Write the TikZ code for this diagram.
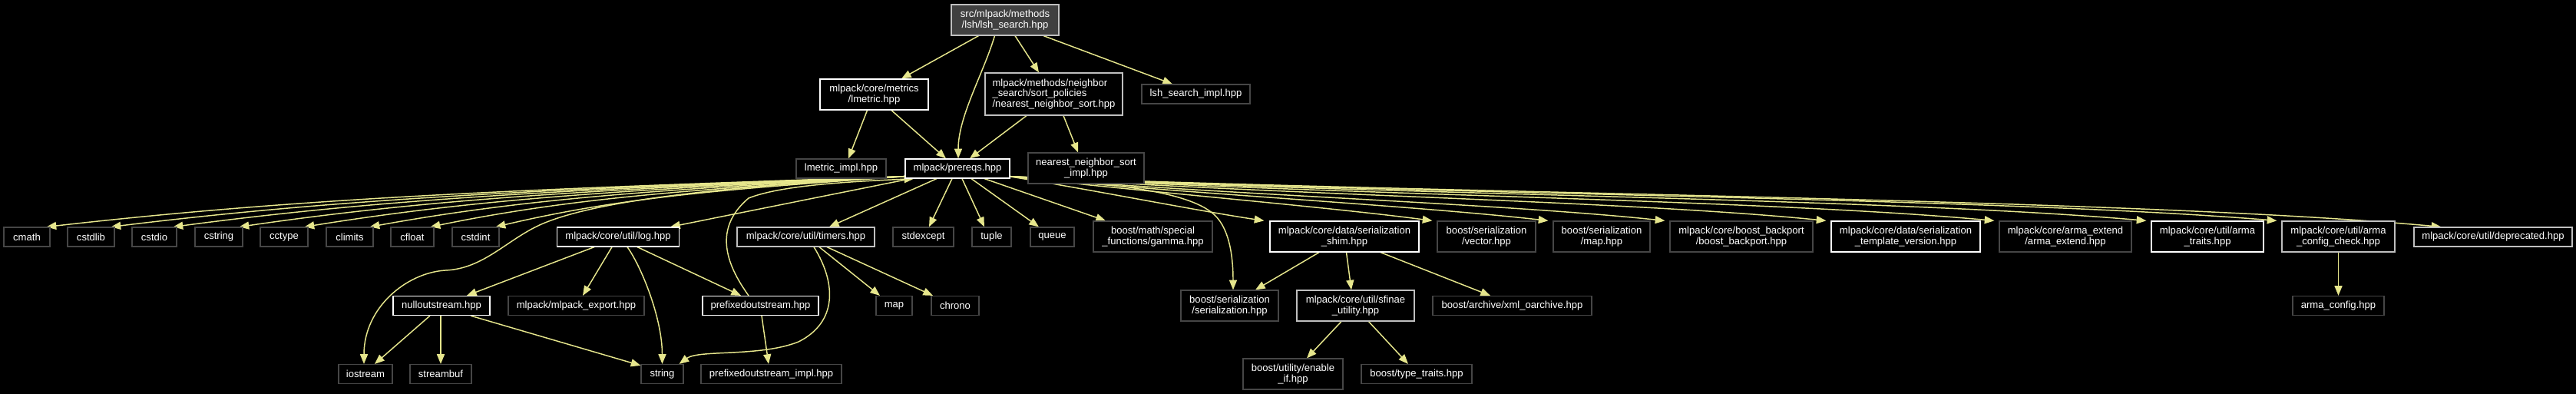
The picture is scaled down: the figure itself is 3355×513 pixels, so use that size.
\documentclass[tikz,border=0pt]{standalone}
\usepackage{fontspec}
\setmainfont{Liberation Sans}
\usetikzlibrary{arrows.meta}
\newdimen\px \px=0.75pt
\definecolor{edgecol}{RGB}{230,230,140}
\definecolor{dimborder}{RGB}{70,70,70}
\definecolor{litborder}{RGB}{191,191,191}
\definecolor{topfill}{RGB}{64,64,64}
\pgfdeclarelayer{bgl}
\pgfdeclarelayer{edgel}
\pgfsetlayers{bgl,edgel,main}
\begin{document}
\begin{tikzpicture}[x=0.75pt,y=-0.75pt,
  box/.style={draw=dimborder, fill=black, line width=1.2\px, text=white,
    font=\fontsize{9.8}{10}\selectfont, inner sep=0pt, align=center,
    minimum height=25\px},
  wht/.style={draw=white},
  lit/.style={draw=litborder},
  dbl/.style={minimum height=40\px},
  dep/.style={draw=edgecol, line width=1.1pt,
    -{Triangle[length=9.5pt,width=7.5pt]}}]
\begin{pgfonlayer}{bgl}
\fill[black] (0,0) rectangle (3355,513);
\end{pgfonlayer}
\useasboundingbox (0,0) rectangle (3355,513);

% rows 1-2
\node[box, lit, fill=topfill, dbl, minimum width=140\px] (top) at (1309,26) {src/mlpack/methods\\/lsh/lsh\_search.hpp};
\node[box, wht, dbl, minimum width=141\px] (lmetric) at (1138.5,123) {mlpack/core/metrics\\/lmetric.hpp};
\node[box, lit, minimum height=55\px, minimum width=179\px, align=left] (nns) at (1372.5,122.5) {mlpack/methods/neighbor\\\_search/sort\_policies\\/nearest\_neighbor\_sort.hpp};
\node[box, minimum width=141\px] (lshimpl) at (1557.5,122.5) {lsh\_search\_impl.hpp};
\node[box, minimum width=117\px] (lmimpl) at (1095.5,219.5) {lmetric\_impl.hpp};
\node[box, wht, minimum width=136\px] (prereqs) at (1247,219.5) {mlpack/prereqs.hpp};
\node[box, dbl, minimum width=151\px] (nnsimpl) at (1414.5,219) {nearest\_neighbor\_sort\\\_impl.hpp};

% row 3
\node[box, minimum width=60\px] (cmath) at (35,308.5) {cmath};
\node[box, minimum width=61\px] (cstdlib) at (118.5,308.5) {cstdlib};
\node[box, minimum width=58\px] (cstdio) at (201,308.5) {cstdio};
\node[box, minimum width=62\px] (cstring) at (285,308.5) {cstring};
\node[box, minimum width=62\px] (cctype) at (370,308.5) {cctype};
\node[box, minimum width=61\px] (climits) at (455.5,308.5) {climits};
\node[box, minimum width=56\px] (cfloat) at (537,308.5) {cfloat};
\node[box, minimum width=61\px] (cstdint) at (619.5,308.5) {cstdint};
\node[box, wht, minimum width=159\px] (log) at (805,308.5) {mlpack/core/util/log.hpp};
\node[box, lit, minimum width=179\px] (timers) at (1049.5,308.5) {mlpack/core/util/timers.hpp};
\node[box, minimum width=79\px] (stdexcept) at (1202.5,308.5) {stdexcept};
\node[box, minimum width=51\px] (tuple) at (1291.5,308.5) {tuple};
\node[box, minimum width=57\px] (queue) at (1370.5,308.5) {queue};
\node[box, dbl, minimum width=155\px] (gamma) at (1501.5,308) {boost/math/special\\\_functions/gamma.hpp};
\node[box, wht, dbl, minimum width=194\px] (shim) at (1751,308) {mlpack/core/data/serialization\\\_shim.hpp};
\node[box, dbl, minimum width=128\px] (vector) at (1936,308) {boost/serialization\\/vector.hpp};
\node[box, dbl, minimum width=126\px] (bmap) at (2086,308) {boost/serialization\\/map.hpp};
\node[box, dbl, minimum width=186\px] (backport) at (2268,308) {mlpack/core/boost\_backport\\/boost\_backport.hpp};
\node[box, wht, dbl, minimum width=194\px] (tversion) at (2482,308) {mlpack/core/data/serialization\\\_template\_version.hpp};
\node[box, dbl, minimum width=172\px] (armaext) at (2690,308) {mlpack/core/arma\_extend\\/arma\_extend.hpp};
\node[box, wht, dbl, minimum width=146\px] (armatraits) at (2875,308) {mlpack/core/util/arma\\\_traits.hpp};
\node[box, lit, dbl, minimum width=147\px] (cfgcheck) at (3045.5,308) {mlpack/core/util/arma\\\_config\_check.hpp};
\node[box, lit, minimum width=206\px] (deprecated) at (3247,308.5) {mlpack/core/util/deprecated.hpp};

% row 4
\node[box, wht, minimum width=126\px] (null) at (575,398) {nulloutstream.hpp};
\node[box, minimum width=177\px] (export) at (750.5,398) {mlpack/mlpack\_export.hpp};
\node[box, wht, minimum width=151\px] (pfx) at (990.5,398) {prefixedoutstream.hpp};
\node[box, minimum width=47\px] (smap) at (1164.5,398) {map};
\node[box, minimum width=62\px] (chrono) at (1244,398) {chrono};
\node[box, dbl, minimum width=127\px] (ser) at (1601.5,398) {boost/serialization\\/serialization.hpp};
\node[box, lit, dbl, minimum width=153\px] (sfinae) at (1765.5,398) {mlpack/core/util/sfinae\\\_utility.hpp};
\node[box, minimum width=207\px] (xml) at (1969.5,398) {boost/archive/xml\_oarchive.hpp};
\node[box, minimum width=119\px] (armacfg) at (3045.5,398) {arma\_config.hpp};

% row 5
\node[box, minimum width=70\px] (iostream) at (476,487) {iostream};
\node[box, minimum width=80\px] (streambuf) at (574,487) {streambuf};
\node[box, minimum width=55\px] (string) at (862.5,487) {string};
\node[box, minimum width=183\px] (pfximpl) at (1004.5,487) {prefixedoutstream\_impl.hpp};
\node[box, dbl, minimum width=130\px] (enableif) at (1684,487) {boost/utility/enable\\\_if.hpp};
\node[box, minimum width=144\px] (typetraits) at (1845,487) {boost/type\_traits.hpp};

\begin{pgfonlayer}{edgel}
% top level
\draw[dep] ([xshift=-34.5\px]top.south) -- ([xshift=35.5\px]lmetric.north);
\draw[dep] ([xshift=-13.5\px]top.south) .. controls +(-15,50) and +(0,-55) .. ([xshift=1\px]prereqs.north);
\draw[dep] ([xshift=13\px]top.south) -- ([xshift=-19.5\px]nns.north);
\draw[dep] ([xshift=50\px]top.south) -- ([xshift=-30.5\px]lshimpl.north);
\draw[dep] ([xshift=-9\px]lmetric.south) -- ([xshift=9.5\px]lmimpl.north);
\draw[dep] ([xshift=22.5\px]lmetric.south) -- ([xshift=-15\px]prereqs.north);
\draw[dep] ([xshift=-35.5\px]nns.south) -- ([xshift=16\px]prereqs.north);
\draw[dep] ([xshift=12.5\px]nns.south) -- ([xshift=-10.5\px]nnsimpl.north);

% prereqs straight
\draw[dep] ([xshift=-7\px]prereqs.south) -- ([xshift=7.5\px]stdexcept.north);
\draw[dep] ([xshift=6\px]prereqs.south) -- ([xshift=-9.5\px]tuple.north);
\draw[dep] ([xshift=18\px]prereqs.south) -- ([xshift=-17.5\px]queue.north);
\draw[dep] ([xshift=-27\px]prereqs.south) -- ([xshift=30.5\px]timers.north);
\draw[dep] ([xshift=8\px]prereqs.south west) -- ([xshift=-12\px]log.north east);
\draw[dep] ([xshift=35\px]prereqs.south) -- ([xshift=-61.5\px]gamma.north);

% prereqs left bundle
\draw[dep] ([xshift=2\px,yshift=3\px]prereqs.south west) .. controls +(-504,17) and +(336,-38) .. ([xshift=-5\px]cmath.north east);
\draw[dep] ([xshift=2\px,yshift=3\px]prereqs.south west) .. controls +(-467,17) and +(311,-38) .. ([xshift=-5\px]cstdlib.north east);
\draw[dep] ([xshift=2\px,yshift=3\px]prereqs.south west) .. controls +(-430,17) and +(287,-38) .. ([xshift=-5\px]cstdio.north east);
\draw[dep] ([xshift=2\px,yshift=3\px]prereqs.south west) .. controls +(-392,17) and +(261,-38) .. ([xshift=-5\px]cstring.north east);
\draw[dep] ([xshift=2\px,yshift=3\px]prereqs.south west) .. controls +(-353,17) and +(236,-38) .. ([xshift=-5\px]cctype.north east);
\draw[dep] ([xshift=2\px,yshift=3\px]prereqs.south west) .. controls +(-315,17) and +(210,-38) .. ([xshift=-5\px]climits.north east);
\draw[dep] ([xshift=2\px,yshift=3\px]prereqs.south west) .. controls +(-279,17) and +(186,-38) .. ([xshift=-5\px]cfloat.north east);
\draw[dep] ([xshift=2\px,yshift=3\px]prereqs.south west) .. controls +(-241,17) and +(161,-38) .. ([xshift=-5\px]cstdint.north east);
\draw[dep] ([xshift=2\px,yshift=3\px]prereqs.south west) .. controls (1000,240) and (790,255) .. (705,292)
   .. controls (660,312) and (630,350) .. (580,352)
   .. controls (530,355) and (474,400) .. ([xshift=-2\px]iostream.north);

% prereqs right bundle
\draw[dep] ([xshift=-2\px,yshift=3\px]prereqs.south east) .. controls +(100,16) and +(-87,-13) .. ([xshift=-7\px]shim.north west);
\draw[dep] ([xshift=-2\px,yshift=3\px]prereqs.south east) .. controls +(166,19) and +(-136,-18) .. ([xshift=-6\px]vector.north west);
\draw[dep] ([xshift=-2\px,yshift=3\px]prereqs.south east) .. controls +(211,21) and +(-177,-20) .. ([xshift=-6\px]bmap.north west);
\draw[dep] ([xshift=-2\px,yshift=3\px]prereqs.south east) .. controls +(257,23) and +(-219,-23) .. ([xshift=-6\px]backport.north west);
\draw[dep] ([xshift=-2\px,yshift=3\px]prereqs.south east) .. controls +(320,23) and +(-259,-26) .. ([xshift=-6\px]tversion.north west);
\draw[dep] ([xshift=-2\px,yshift=3\px]prereqs.south east) .. controls +(386,23) and +(-308,-28) .. ([xshift=-6\px]armaext.north west);
\draw[dep] ([xshift=-2\px,yshift=3\px]prereqs.south east) .. controls +(445,23) and +(-346,-30) .. ([xshift=-6\px]armatraits.north west);
\draw[dep] ([xshift=-2\px,yshift=3\px]prereqs.south east) .. controls +(496,23) and +(-376,-31) .. ([xshift=-6\px]cfgcheck.north west);
\draw[dep] ([xshift=-2\px,yshift=3\px]prereqs.south east) .. controls +(560,23) and +(-420,-38) .. ([xshift=36\px]deprecated.north west);
\draw[dep] ([xshift=-2\px,yshift=3\px]prereqs.south east) .. controls +(110,8) and (1545,245) .. (1582,280)
   .. controls (1603,300) and (1606,340) .. ([xshift=4.5\px]ser.north);

% log and timers
\draw[dep] ([xshift=-31\px]log.south) -- ([xshift=33\px]null.north);
\draw[dep] ([xshift=-8\px]log.south) -- ([xshift=8.5\px]export.north);
\draw[dep] ([xshift=12\px]log.south) .. controls +(18,25) and +(0,-60) .. (string.north);
\draw[dep] ([xshift=25\px]log.south) -- ([xshift=-25.5\px]pfx.north);
\draw[dep] ([xshift=17.5\px]timers.south) -- ([xshift=-18.5\px]smap.north);
\draw[dep] ([xshift=27.5\px]timers.south) -- ([xshift=-29\px]chrono.north);
\draw[dep] ([xshift=10.5\px]timers.south) .. controls +(30,48) and (1090,420) .. (1040,445)
   .. controls (990,465) and (910,455) .. ([xshift=-6\px]string.north east);
\draw[dep] ([xshift=-15\px]null.south) -- ([xshift=12\px]iostream.north);
\draw[dep] ([xshift=-1\px]null.south) -- (streambuf.north);
\draw[dep] ([xshift=38\px]null.south) -- ([yshift=-2\px]string.north west);
\draw[dep] ([xshift=1.5\px]pfx.south) -- ([xshift=-3.5\px]pfximpl.north);
\draw[dep] ([xshift=-15.5\px]pfx.north) .. controls (950,350) and (925,300) .. (975,258)
   .. controls (1020,240) and (1120,236) .. ([xshift=12\px]prereqs.south west);

% serialization shim
\draw[dep] ([xshift=-33\px]shim.south) -- ([xshift=33.5\px]ser.north);
\draw[dep] ([xshift=2.5\px]shim.south) -- ([xshift=-5.5\px]sfinae.north);
\draw[dep] ([xshift=47\px]shim.south) -- ([xshift=-28.5\px]xml.north);
\draw[dep] ([xshift=-18.5\px]sfinae.south) -- ([xshift=18\px]enableif.north);
\draw[dep] ([xshift=17\px]sfinae.south) -- ([xshift=-11\px]typetraits.north);
\draw[dep] (cfgcheck) -- (armacfg);
\end{pgfonlayer}
\end{tikzpicture}
\end{document}
